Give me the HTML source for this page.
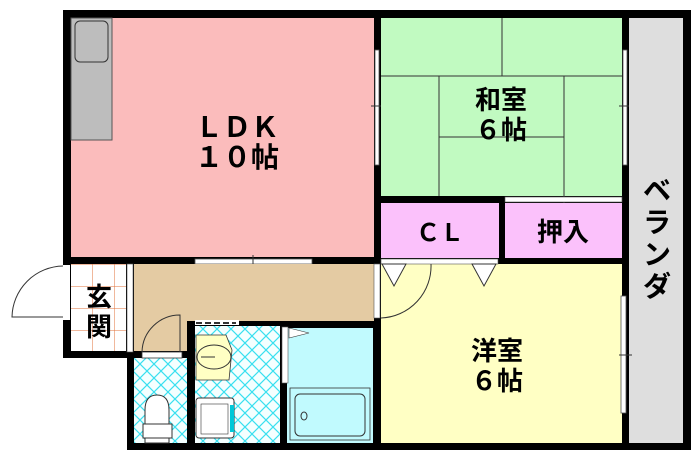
<!DOCTYPE html>
<html><head><meta charset="utf-8"><style>
html,body{margin:0;padding:0;background:#fff;width:700px;height:456px;overflow:hidden}
svg{display:block}
text{font-family:"Liberation Sans","Noto Sans CJK JP",sans-serif;fill:#000;font-weight:bold}
</style></head><body>
<svg width="700" height="456" viewBox="0 0 700 456">
<defs>
<pattern id="tile" width="14" height="14" patternUnits="userSpaceOnUse">
<rect width="14" height="14" fill="#f4ffff"/>
<path d="M0 0L14 14M14 0L0 14" stroke="#38e0f0" stroke-width="1.2"/>
</pattern>
<pattern id="gen" width="22" height="22" patternUnits="userSpaceOnUse" x="70" y="264">
<rect width="22" height="22" fill="#fff"/>
<path d="M0 0V22M0 0H22" stroke="#e0703a" stroke-width="1"/>
</pattern>
</defs>
<rect x="63" y="10" width="628" height="254" fill="#000"/>
<rect x="374" y="258" width="317" height="192" fill="#000"/>
<rect x="63" y="258" width="317" height="100" fill="#000"/>
<rect x="127" y="320" width="253" height="130" fill="#000"/>
<!-- LDK -->
<rect x="71" y="18" width="303" height="239" fill="#fbbcbc"/>
<rect x="71" y="18" width="41" height="122" fill="#bdbdbd" stroke="#555" stroke-width="1"/>
<rect x="75" y="21" width="33" height="41" rx="5" fill="#bdbdbd" stroke="#333" stroke-width="1"/>
<text x="237" y="137" font-size="28" text-anchor="middle">ＬＤＫ</text>
<text x="237" y="167" font-size="28" text-anchor="middle">１０帖</text>
<rect x="195" y="259" width="117" height="5" fill="#fff" stroke="#555" stroke-width="0.8"/>
<line x1="253" y1="255" x2="253" y2="268" stroke="#333"/>
<rect x="375" y="50" width="4" height="115" fill="#fff" stroke="#555" stroke-width="0.8"/>
<line x1="371" y1="106" x2="384" y2="106" stroke="#333"/>
<!-- washitsu -->
<rect x="381" y="18" width="241" height="178" fill="#c1fac1"/>
<g stroke="#333" stroke-width="1">
<line x1="381" y1="76" x2="622" y2="76"/>
<line x1="502" y1="18" x2="502" y2="76"/>
<line x1="439" y1="76" x2="439" y2="196"/>
<line x1="564" y1="76" x2="564" y2="206"/>
<line x1="439" y1="137" x2="564" y2="137"/>
</g>
<text x="501" y="109" font-size="26" text-anchor="middle">和室</text>
<text x="501" y="139" font-size="26" text-anchor="middle">６帖</text>
<rect x="623" y="50" width="4" height="115" fill="#fff" stroke="#555" stroke-width="0.8"/>
<line x1="619" y1="106" x2="632" y2="106" stroke="#333"/>
<!-- veranda -->
<rect x="629" y="18" width="54" height="425" fill="#dedede"/>
<text x="657" y="200" font-size="28" text-anchor="middle">ベ</text>
<text x="657" y="232" font-size="28" text-anchor="middle">ラ</text>
<text x="657" y="264" font-size="28" text-anchor="middle">ン</text>
<text x="657" y="296" font-size="28" text-anchor="middle">ダ</text>
<!-- CL / oshiire -->
<rect x="381" y="203" width="118" height="55" fill="#fbc1fb"/>
<rect x="505" y="203" width="117" height="55" fill="#fbc1fb"/>
<rect x="505" y="197" width="117" height="5" fill="#fff" stroke="#555" stroke-width="0.6"/>
<text x="440" y="241" font-size="24" text-anchor="middle">ＣＬ</text>
<text x="563" y="241" font-size="26" text-anchor="middle">押入</text>
<!-- yoshitsu -->
<rect x="381" y="264" width="241" height="179" fill="#ffffc4"/>
<rect x="381" y="259" width="117" height="5" fill="#fff" stroke="#555" stroke-width="0.6"/>
<path d="M382 264L394 286L406 264Z M472 264L484 286L496 264Z" fill="#fff" stroke="#333"/>
<path d="M431 264A52 52 0 0 1 381 318" fill="none" stroke="#333"/>
<text x="497" y="360" font-size="26" text-anchor="middle">洋室</text>
<text x="497" y="390" font-size="26" text-anchor="middle">６帖</text>
<rect x="621" y="296" width="5" height="117" fill="#fff" stroke="#555" stroke-width="0.8"/>
<line x1="619" y1="355" x2="632" y2="355" stroke="#333"/>
<!-- hallway -->
<rect x="134" y="264" width="240" height="57" fill="#e4cba3"/>
<rect x="134" y="316" width="53" height="35" fill="#e4cba3"/>
<rect x="374" y="264" width="6" height="54" fill="#fff" stroke="#555" stroke-width="0.6"/>
<!-- genkan -->
<rect x="71" y="264" width="55" height="87" fill="url(#gen)"/>
<rect x="127" y="264" width="6" height="88" fill="#fff" stroke="#555" stroke-width="0.6"/>
<text x="99" y="306" font-size="26" text-anchor="middle">玄</text>
<text x="99" y="336" font-size="26" text-anchor="middle">関</text>
<rect x="63" y="265" width="7" height="55" fill="#fff"/>
<path d="M63 266A52 52 0 0 0 12 317L63 317" fill="none" stroke="#333"/>
<!-- toilet -->
<rect x="134" y="358" width="53" height="85" fill="url(#tile)"/>
<rect x="142" y="352" width="40" height="6" fill="#fff" stroke="#333" stroke-width="0.8"/>
<path d="M142 352A38 38 0 0 1 180 315L180 352" fill="none" stroke="#333"/>
<path d="M145 443L145 410Q145 395 157 395Q169 395 169 410L169 443Z" fill="#fff" stroke="#333"/>
<rect x="143" y="424" width="29" height="14" fill="#fff" stroke="#333"/>
<!-- wash -->
<rect x="195" y="326" width="85" height="117" fill="url(#tile)"/>
<rect x="195" y="320" width="44" height="5" fill="#fff"/>
<line x1="196" y1="323" x2="236" y2="323" stroke="#333" stroke-dasharray="6 3" stroke-width="2"/>
<path d="M196 335H226L232 350L229 380H196Z" fill="#ffffc4" stroke="#333" stroke-width="0.8"/>
<ellipse cx="214" cy="357" rx="17" ry="12" fill="#ffffc4" stroke="#333"/>
<line x1="201" y1="357" x2="215" y2="357" stroke="#333"/>
<rect x="196" y="398" width="38" height="40" rx="3" fill="#fff" stroke="#333"/>
<rect x="201" y="404" width="27" height="30" fill="#fff" stroke="#333" stroke-width="0.6"/>
<rect x="230" y="405" width="4" height="27" fill="#00c8d8"/>
<!-- bath -->
<rect x="287" y="328" width="86" height="115" fill="#c1fafe"/>
<rect x="282" y="327" width="6" height="56" fill="#fff" stroke="#555" stroke-width="0.6"/>
<path d="M289 328L309 333L289 338Z" fill="#fff" stroke="#333" stroke-width="0.6"/>
<rect x="290" y="388" width="80" height="52" fill="#c1fafe" stroke="#333" stroke-width="0.8"/>
<rect x="295" y="394" width="70" height="42" rx="5" fill="#c1fafe" stroke="#333"/>
<ellipse cx="304" cy="416" rx="3" ry="4" fill="none" stroke="#333"/>
</svg>
</body></html>
